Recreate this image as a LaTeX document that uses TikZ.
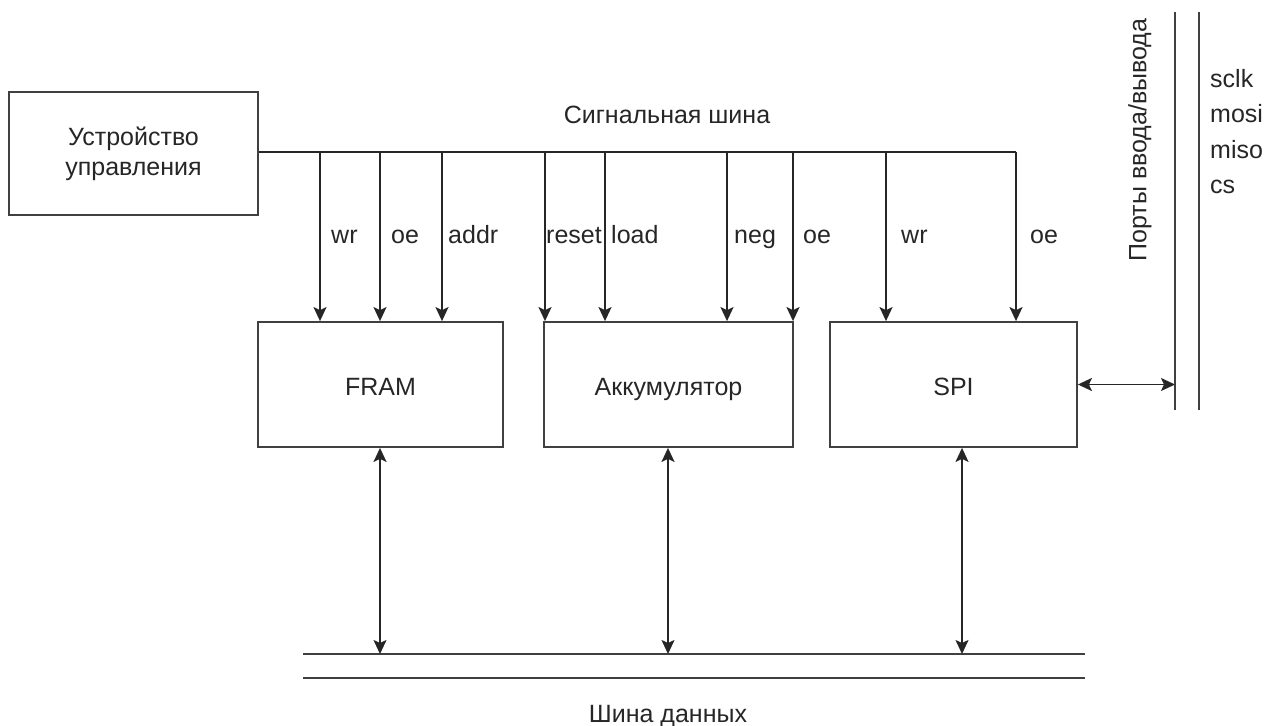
\documentclass[tikz,border=0pt]{standalone}
\usepackage{fontspec}
\setmainfont{Liberation Sans}
\usetikzlibrary{arrows.meta}
\begin{document}
\begin{tikzpicture}[x=1pt,y=-1pt,
  every node/.style={font=\fontsize{25}{30}\selectfont, text=black!85},
  blk/.style={draw=black!75, line width=1.8pt, inner sep=0pt},
  unit/.style={blk, text height=22pt, text depth=1pt},
  wire/.style={draw=black!85, line width=1.8pt},
  arr/.style={wire, -{Stealth[length=14pt,width=13pt,inset=3pt]}},
  darr/.style={wire, {Stealth[length=14pt,width=13pt,inset=3pt]}-{Stealth[length=14pt,width=13pt,inset=3pt]}},
  lbl/.style={anchor=base west, inner sep=0pt},
  busline/.style={draw=black!75, line width=2.2pt}]
\useasboundingbox (0,0) rectangle (1265,725);

% functional blocks
\node[blk, minimum width=249pt, minimum height=123pt, align=center] (ctrl) at (133.5,153.5) {Устройство\\управления};
\node[unit, minimum width=245pt, minimum height=125pt] (fram) at (380.5,384.5) {FRAM};
\node[unit, minimum width=249pt, minimum height=125pt] (acc) at (668.5,384.5) {Аккумулятор};
\node[unit, minimum width=247pt, minimum height=125pt] (spi) at (953.5,384.5) {SPI};

% signal bus
\coordinate (sbusR) at (1016,152);
\draw[wire, line width=2.2pt] (ctrl.east |- sbusR) -- (sbusR);
\node[anchor=base, inner sep=0pt] (sbuslbl) at (667,123) {Сигнальная шина};

% control lines into FRAM
\draw[arr] (320,152) -- (320,0 |- fram.north);
\draw[arr] (380,152) -- (380,0 |- fram.north);
\draw[arr] (442,152) -- (442,0 |- fram.north);
% control lines into the accumulator
\draw[arr] (545,152) -- (545,0 |- acc.north);
\draw[arr] (605,152) -- (605,0 |- acc.north);
\draw[arr] (727,152) -- (727,0 |- acc.north);
\draw[arr] (793,152) -- (793,0 |- acc.north);
% control lines into SPI
\draw[arr] (886,152) -- (886,0 |- spi.north);
\draw[arr] (sbusR) -- (sbusR |- spi.north);

% signal names
\node[lbl] (l1) at (331,243) {wr};
\node[lbl] (l2) at (391,243) {oe};
\node[lbl] (l3) at (448,243) {addr};
\node[lbl] (l4) at (546,243) {reset};
\node[lbl] (l5) at (611,243) {load};
\node[lbl] (l6) at (734,243) {neg};
\node[lbl] (l7) at (803,243) {oe};
\node[lbl] (l8) at (901,243) {wr};
\node[lbl] (l9) at (1030,243) {oe};

% data bus
\coordinate (dbusL) at (303,654);
\coordinate (dbusR) at (1085,654);
\draw[busline] (dbusL) -- (dbusR);
\draw[busline] ([yshift=-24pt]dbusL) -- ([yshift=-24pt]dbusR);
\node[anchor=base, inner sep=0pt] (dbuslbl) at (668,722) {Шина данных};
\draw[darr] (380,0 |- fram.south) -- (380,0 |- dbusL);
\draw[darr] (668,0 |- acc.south) -- (668,0 |- dbusL);
\draw[darr] (962,0 |- spi.south) -- (962,0 |- dbusL);

% I/O ports
\coordinate (pA) at (1175,12);
\coordinate (pB) at (1199,12);
\draw[busline] (pA) -- (1175,410);
\draw[busline] (pB) -- (1199,410);
\node[rotate=90] (portlbl) at (1140,140) {Порты ввода/вывода};
\draw[darr] (spi.east) -- (spi.east -| pA);
\node[lbl] (p1) at (1210,87) {sclk};
\node[lbl] (p2) at (1210,122.5) {mosi};
\node[lbl] (p3) at (1210,158) {miso};
\node[lbl] (p4) at (1210,193.5) {cs};
\end{tikzpicture}
\end{document}
